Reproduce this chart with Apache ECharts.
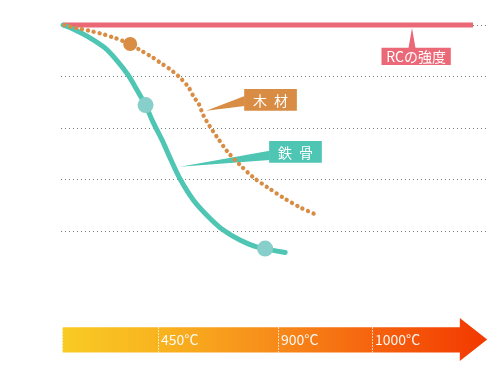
<!DOCTYPE html>
<html><head><meta charset="utf-8">
<script src="https://cdn.jsdelivr.net/npm/echarts@6/dist/echarts.min.js"></script>
<style>html,body{margin:0;padding:0;background:#fff}#c{width:492px;height:382px}</style>
</head><body><div id="c"></div>
<script>
// ---- data ----
const rcStrength = [[0.5, 100], [96.5, 100]];
const steel = [[0.5,100],[3.3,98.1],[6.3,95.5],[10.3,91.1],[13.3,85.8],[15.7,80.6],[18.0,74.2],[19.8,68.9],[21.55,62.3],[23.65,55.4],[25.76,47.6],[28.03,39.8],[30.98,32.1],[34.5,25.6],[38.0,20.4],[41.9,16.5],[45.8,13.9],[52.5,11.7]];
const steelMarkers = [[19.8,68.9],[47.8,13.2]];
const wood = [[0.8,100],[4.0,98.7],[6.8,97.7],[9.5,96.6],[12.2,95.2],[16.2,92.6],[18.5,90.3],[21.1,87.8],[23.4,85.2],[25.8,82.5],[27.9,79.5],[29.8,76.0],[31.2,71.8],[32.2,69.6],[33.3,65.1],[34.9,60.5],[36.5,56.6],[39.0,50.8],[41.9,45.7],[45.0,40.9],[48.6,36.7],[52.3,32.7],[56.0,29.2],[59.7,26.4]];
const woodMarkers = [[16.2,92.6]];
const calloutNames = ['RCの強度', '木\u2002材', '鉄\u2002骨'];
const calloutAnchors = [[82.2,100],[34.0,66.7],[27.9,45.0]];
const tempTicks = [22.7, 50.8, 72.8];
const tempLabels = ['450°C', '900°C', '1000°C'];
const arrowSpan = [0.3, 93.4, 99.8]; // body start, head base, tip (x units)

// ---- styles ----
const RED = '#eb6877', ORANGE = '#d98c43', TEAL = '#4fc5b4';
const calloutStyle = [
  {color: RED, box: [-30.5, 22.7, 69.3, 17.3], tri: [[-3.5, 23], [3.5, 23], [0, 3]]},
  {color: ORANGE, box: [38, -21.7, 52.7, 21.7], tri: [[38.5, -14.7], [38.5, -4.7], [0, 0]]},
  {color: TEAL, box: [89, -25.7, 52.7, 21.7], tri: [[89.5, -16], [89.5, -6.7], [0, 0]]}
];
const FONT = '"Noto Sans CJK JP", "Noto Sans", sans-serif';

function renderCallout(params, api) {
  const i = params.dataIndex;
  const p = api.coord([api.value(0), api.value(1)]);
  const s = calloutStyle[i];
  const [bx, by, bw, bh] = s.box;
  return {
    type: 'group',
    children: [
      {type: 'polygon', shape: {points: s.tri.map(t => [p[0] + t[0], p[1] + t[1]])}, style: {fill: s.color}},
      {type: 'rect', shape: {x: p[0] + bx, y: p[1] + by, width: bw, height: bh}, style: {fill: s.color}},
      {type: 'text', x: p[0] + bx + bw / 2, y: p[1] + by + bh / 2 + 0.5,
        style: {text: calloutNames[i], fill: '#fff', font: '14px ' + FONT, align: 'center', verticalAlign: 'middle'}}
    ]
  };
}

function renderArrow(params, api) {
  const x0 = api.coord([arrowSpan[0], 0])[0];
  const xb = api.coord([arrowSpan[1], 0])[0];
  const xt = api.coord([arrowSpan[2], 0])[0];
  const yHeadBot = api.coord([0, 0])[1], yHeadTop = api.coord([0, 1])[1];
  const yBodyBot = api.coord([0, 0.2])[1], yBodyTop = api.coord([0, 0.785])[1];
  const yMid = api.coord([0, 0.5])[1];
  const children = [{
    type: 'polygon',
    shape: {points: [[x0, yBodyTop], [xb, yBodyTop], [xb, yHeadTop], [xt, yMid], [xb, yHeadBot], [xb, yBodyBot], [x0, yBodyBot]]},
    style: {fill: new echarts.graphic.LinearGradient(0, 0, 1, 0, [
      {offset: 0, color: '#f9cb24'}, {offset: 0.25, color: '#f8b11f'}, {offset: 0.5, color: '#f78b1a'},
      {offset: 0.75, color: '#f5600d'}, {offset: 1, color: '#f33800'}])}
  }];
  const divs = [arrowSpan[0]].concat(tempTicks);
  divs.forEach((t, k) => {
    const x = Math.round(api.coord([t, 0])[0]) + 0.5;
    children.push({type: 'line', shape: {x1: x, y1: yBodyTop, x2: x, y2: yBodyBot},
      style: {stroke: 'rgba(255,255,255,0.9)', lineWidth: 1, lineDash: [1.5, 1.5]}});
    if (k > 0) children.push({type: 'text', x: x + 2.5, y: yMid + 0.5,
      style: {text: tempLabels[k - 1], fill: 'rgba(255,255,255,0.95)', font: '14px ' + FONT, verticalAlign: 'middle'}});
  });
  return {type: 'group', children};
}

const chart = echarts.init(document.getElementById('c'), null, {renderer: 'canvas'});
chart.setOption({
  animation: false,
  backgroundColor: '#fff',
  grid: [
    {left: 61, right: 4, top: 25, height: 257.6},
    {left: 61, right: 4, top: 318, height: 43}
  ],
  xAxis: [
    {type: 'value', min: 0, max: 100, show: false, gridIndex: 0},
    {type: 'value', min: 0, max: 100, show: false, gridIndex: 1}
  ],
  yAxis: [
    {type: 'value', min: 0, max: 100, interval: 20, gridIndex: 0,
      axisLine: {show: false}, axisTick: {show: false}, axisLabel: {show: false},
      splitLine: {show: true, showMinLine: false, lineStyle: {color: '#7a7a7a', width: 1, type: [1, 3]}}},
    {type: 'value', min: 0, max: 1, show: false, gridIndex: 1}
  ],
  series: [
    {type: 'line', data: rcStrength, symbol: 'none', clip: false, z: 2,
      lineStyle: {color: RED, width: 5, cap: 'butt'}},
    {type: 'line', data: steel, symbol: 'none', smooth: 0.3, clip: false, z: 3,
      lineStyle: {color: TEAL, width: 5, cap: 'round'}},
    {type: 'custom', renderItem: renderCallout, data: calloutAnchors, z: 4, clip: false},
    {type: 'line', data: wood, symbol: 'none', smooth: 0.3, clip: false, z: 5,
      lineStyle: {color: ORANGE, width: 4.3, cap: 'round', type: [0.1, 5.9]}},
    {type: 'scatter', data: steelMarkers, symbolSize: 16, z: 6, itemStyle: {color: '#86cfca', opacity: 1}},
    {type: 'scatter', data: woodMarkers, symbolSize: 14, z: 6, itemStyle: {color: ORANGE, opacity: 1}},
    {type: 'custom', renderItem: renderArrow, data: [[0, 0]], xAxisIndex: 1, yAxisIndex: 1, clip: false}
  ]
});
</script>
</body></html>
